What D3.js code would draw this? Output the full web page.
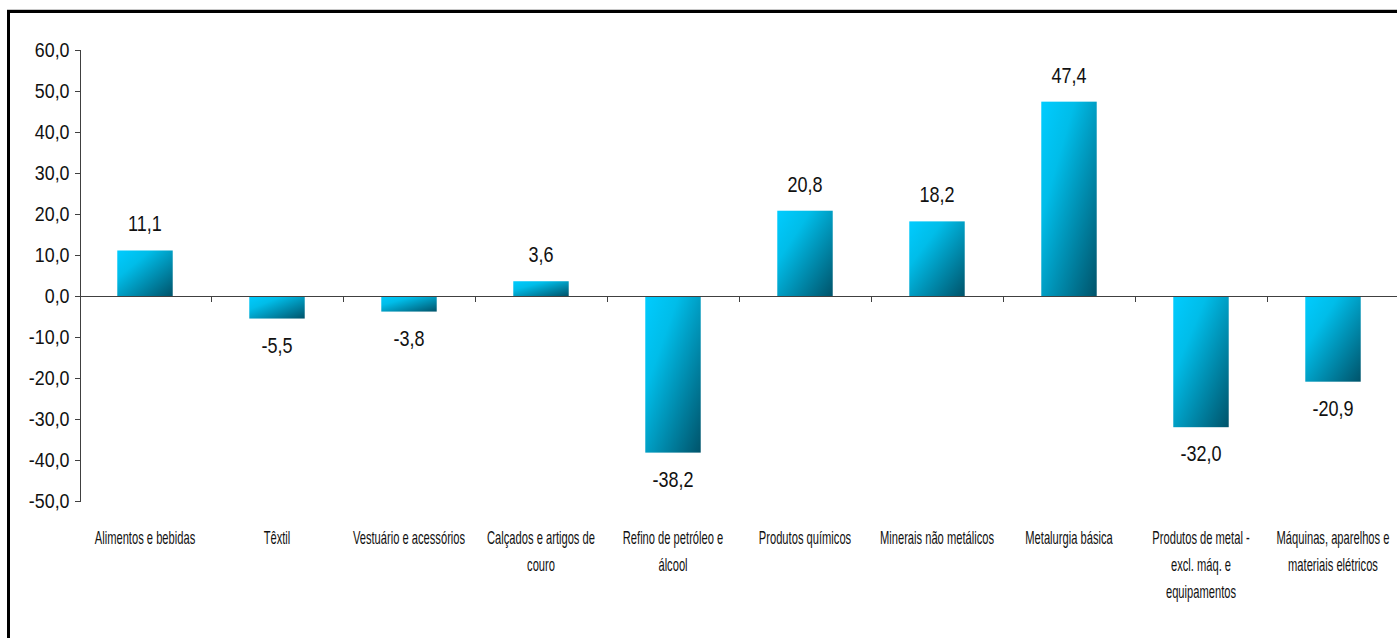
<!DOCTYPE html>
<html>
<head>
<meta charset="utf-8">
<script src="https://d3js.org/d3.v7.min.js"></script>
<style>
  body { margin: 0; background: #fff; }
  svg { display: block; }
  .axis path, .axis line { stroke: #404040; stroke-width: 1; shape-rendering: crispEdges; }
  .y.axis text { font-family: 'Liberation Sans Narrow', 'Liberation Sans', Arial, sans-serif; font-size: 21px; fill: #111; }
  .val { font-family: 'Liberation Sans Narrow', 'Liberation Sans', Arial, sans-serif; font-size: 22px; fill: #111; }
  .cat { font-family: 'Liberation Sans', Arial, sans-serif; font-size: 18px; fill: #111; }
</style>
</head>
<body>
<div id="chart"></div>
<script>
// categories (line breaks marked with |)
var categories = [
  "Alimentos e bebidas",
  "Têxtil",
  "Vestuário e acessórios",
  "Calçados e artigos de|couro",
  "Refino de petróleo e|álcool",
  "Produtos químicos",
  "Minerais não metálicos",
  "Metalurgia básica",
  "Produtos de metal -|excl. máq. e|equipamentos",
  "Máquinas, aparelhos e|materiais elétricos"
];
var values = [11.1, -5.5, -3.8, 3.6, -38.2, 20.8, 18.2, 47.4, -32.0, -20.9];
var yTicks = [-50, -40, -30, -20, -10, 0, 10, 20, 30, 40, 50, 60];

var W = 1397, H = 638;
var fmt = function(v) { return d3.format(".1f")(v).replace(".", ",").replace("\u2212", "-"); };

var svg = d3.select("#chart").append("svg")
  .attr("width", W).attr("height", H);

var defs = svg.append("defs");
var grad = defs.append("linearGradient")
  .attr("id", "barGrad")
  .attr("x1", 0).attr("y1", 0).attr("x2", 1).attr("y2", 1);
grad.append("stop").attr("offset", "0%").attr("stop-color", "#00ccff");
grad.append("stop").attr("offset", "30%").attr("stop-color", "#00bde9");
grad.append("stop").attr("offset", "100%").attr("stop-color", "#00536a");

// outer frame
svg.append("rect")
  .attr("x", 7.5).attr("y", 9.5).attr("width", W).attr("height", H)
  .attr("fill", "none").attr("stroke", "#c8c8c8").attr("stroke-width", 1);
svg.append("rect")
  .attr("x", 8.5).attr("y", 11.5).attr("width", W).attr("height", H)
  .attr("fill", "none").attr("stroke", "#000").attr("stroke-width", 3);

var x = d3.scaleBand().domain(categories).range([79, 1399]).padding(0);
var y = d3.scaleLinear().domain([-50, 60]).range([501, 50]);

var barW = x.bandwidth() * 0.42;

svg.selectAll(".bar")
  .data(values)
  .enter().append("rect")
  .attr("class", "bar")
  .attr("x", function(d, i) { return x(categories[i]) + (x.bandwidth() - barW) / 2; })
  .attr("y", function(d) { return y(Math.max(0, d)); })
  .attr("width", barW)
  .attr("height", function(d) { return Math.abs(y(d) - y(0)); })
  .attr("fill", "url(#barGrad)");

// y axis
var yAxis = d3.axisLeft(y).tickValues(yTicks).tickSize(5).tickPadding(4).tickFormat(fmt);
svg.append("g").attr("class", "y axis")
  .attr("transform", "translate(79.5,0)")
  .call(yAxis)
  .selectAll("text")
  .attr("x", -10 / 0.85)
  .attr("transform", "scale(0.85,1)");

// zero line with category ticks
var zg = svg.append("g").attr("class", "axis");
zg.append("line")
  .attr("x1", 79).attr("x2", W)
  .attr("y1", Math.round(y(0)) + 0.5).attr("y2", Math.round(y(0)) + 0.5);
zg.selectAll(".ctick")
  .data(categories.slice(1))
  .enter().append("line")
  .attr("x1", function(d) { return Math.round(x(d)) + 0.5; })
  .attr("x2", function(d) { return Math.round(x(d)) + 0.5; })
  .attr("y1", Math.round(y(0)) + 0.5)
  .attr("y2", Math.round(y(0)) + 6);

// value labels
svg.selectAll(".val")
  .data(values)
  .enter().append("text")
  .attr("class", "val")
  .attr("text-anchor", "middle")
  .attr("transform", function(d, i) {
    var cx = x(categories[i]) + x.bandwidth() / 2;
    var cy = d >= 0 ? y(d) - 19 : y(d) + 34;
    return "translate(" + cx + "," + cy + ") scale(0.82,1)";
  })
  .text(fmt);

// category labels
var cat = svg.selectAll(".cat")
  .data(categories)
  .enter().append("text")
  .attr("class", "cat")
  .attr("text-anchor", "middle")
  .attr("transform", function(d) { return "translate(" + (x(d) + x.bandwidth() / 2) + ",544) scale(0.62,1)"; });
cat.selectAll("tspan")
  .data(function(d) { return d.split("|"); })
  .enter().append("tspan")
  .attr("x", 0)
  .attr("dy", function(d, i) { return i === 0 ? 0 : 27; })
  .text(function(d) { return d; });
</script>
</body>
</html>
